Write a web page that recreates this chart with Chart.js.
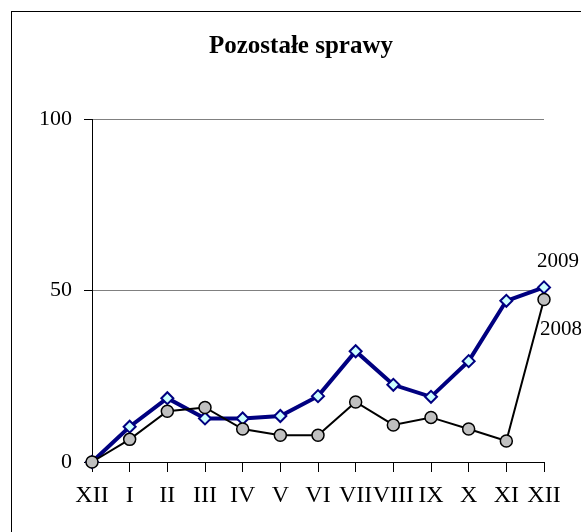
<!DOCTYPE html>
<html>
<head>
<meta charset="utf-8">
<script src="https://cdn.jsdelivr.net/npm/chart.js@4"></script>
<style>
  html, body { margin: 0; padding: 0; background: #fff; overflow: hidden; }
  #frame { position: absolute; left: 11px; top: 11px; width: 700px; height: 700px; border: 1px solid #000; }
  #wrap { position: absolute; left: 0; top: 0; width: 581px; height: 532px; }
</style>
</head>
<body>
<div id="frame"></div>
<div id="wrap"><canvas id="chart" width="581" height="532"></canvas></div>
<script>
// ------- Data -------
const months = ['XII', 'I', 'II', 'III', 'IV', 'V', 'VI', 'VII', 'VIII', 'IX', 'X', 'XI', 'XII'];
const values2009 = [0, 10.3, 18.6, 12.7, 12.7, 13.4, 19.2, 32.3, 22.5, 19.0, 29.4, 47.0, 50.9];
const values2008 = [0, 6.6, 14.8, 15.9, 9.6, 7.8, 7.8, 17.5, 10.8, 13.0, 9.6, 6.1, 47.4];
const yTicks = [0, 50, 100];
const chartTitle = 'Pozostałe sprawy';

const SERIF = "'Liberation Serif', 'DejaVu Serif', serif";

// title sits centred on the outer frame, not on the plot
const frameTitle = {
  id: 'frameTitle',
  afterDraw(chart) {
    const ctx = chart.ctx;
    ctx.save();
    ctx.font = 'bold 25px ' + SERIF;
    ctx.fillStyle = '#000';
    ctx.textAlign = 'center';
    ctx.textBaseline = 'middle';
    ctx.fillText(chartTitle, 301, 47);
    ctx.restore();
  }
};

// series name written next to the last point of each line
const endLabels = {
  id: 'endLabels',
  afterDatasetsDraw(chart) {
    const ctx = chart.ctx;
    ctx.save();
    ctx.font = '21px ' + SERIF;
    ctx.fillStyle = '#000';
    ctx.textAlign = 'left';
    ctx.textBaseline = 'middle';
    chart.data.datasets.forEach((ds, i) => {
      const pts = chart.getDatasetMeta(i).data;
      const p = pts[pts.length - 1];
      const dy = ds.label === '2009' ? -26 : 30;
      const dx = ds.label === '2009' ? -7 : -4;
      ctx.fillText(ds.label, p.x + dx, p.y + dy);
    });
    ctx.restore();
  }
};

new Chart(document.getElementById('chart').getContext('2d'), {
  type: 'line',
  data: {
    labels: months,
    datasets: [
      {
        label: '2008',
        data: values2008,
        order: 0,
        borderColor: '#000',
        borderWidth: 2,
        tension: 0,
        pointStyle: 'circle',
        pointRadius: 6,
        pointBackgroundColor: '#c0c0c0',
        pointBorderColor: '#000',
        pointBorderWidth: 1.5,
        clip: false
      },
      {
        label: '2009',
        data: values2009,
        order: 1,
        borderColor: '#000080',
        borderWidth: 4,
        tension: 0,
        pointStyle: 'rectRot',
        pointRadius: 6,
        pointBackgroundColor: '#ccffff',
        pointBorderColor: '#000080',
        pointBorderWidth: 2,
        clip: false
      }
    ]
  },
  options: {
    responsive: false,
    animation: false,
    layout: { padding: { left: 0, right: 37, top: 119, bottom: 0 } },
    plugins: {
      legend: { display: false },
      tooltip: { enabled: false },
      title: { display: false }
    },
    scales: {
      x: {
        type: 'category',
        offset: false,
        afterFit: s => { s.height = 70; },
        grid: { drawOnChartArea: false, tickLength: 10, tickColor: '#000', tickWidth: 1 },
        border: { color: '#000', width: 1 },
        ticks: {
          autoSkip: false, maxRotation: 0, minRotation: 0, padding: 9,
          color: '#000', font: { family: SERIF, size: 24 }
        }
      },
      y: {
        min: 0,
        max: 100,
        afterFit: s => { s.width = 92; },
        afterBuildTicks: s => { s.ticks = yTicks.map(v => ({ value: v })); },
        grid: {
          color: c => (c.tick && c.tick.value === 0) ? 'rgba(0,0,0,0)' : '#808080',
          tickColor: '#000', tickLength: 8, lineWidth: 1
        },
        border: { color: '#000', width: 1 },
        ticks: { padding: 12, color: '#000', font: { family: SERIF, size: 22 } }
      }
    }
  },
  plugins: [endLabels, frameTitle]
});
</script>
</body>
</html>
